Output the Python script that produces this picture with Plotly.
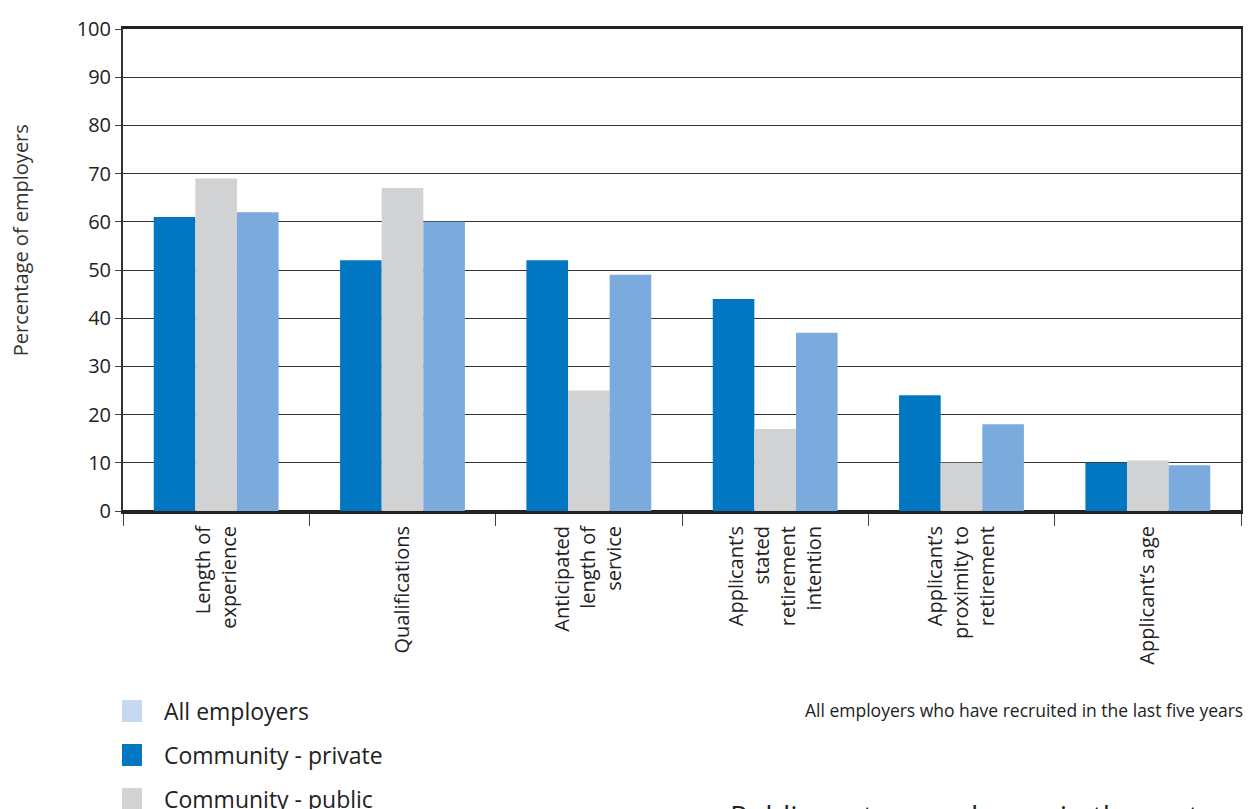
import plotly.graph_objects as go

categories = [
    "Length of<br>experience",
    "Qualifications",
    "Anticipated<br>length of<br>service",
    "Applicant’s<br>stated<br>retirement<br>intention",
    "Applicant’s<br>proximity to<br>retirement",
    "Applicant’s age",
]
community_private = [61, 52, 52, 44, 24, 10]
community_public = [69, 67, 25, 17, 10, 10.5]
all_employers = [62, 60, 49, 37, 18, 9.5]

y_ticks = [0, 10, 20, 30, 40, 50, 60, 70, 80, 90, 100]

legend_names = ["All employers", "Community - private", "Community - public"]
legend_colors = ["#c6d9f1", "#0077c0", "#d1d2d4"]

FONT = "Open Sans"
TXT = "#222222"

fig = go.Figure()
fig.add_trace(go.Bar(x=categories, y=community_private, name="Community - private",
                     marker=dict(color="#0077c0", line=dict(width=0)), showlegend=False))
fig.add_trace(go.Bar(x=categories, y=community_public, name="Community - public",
                     marker=dict(color="#d1d2d4", line=dict(width=0)), showlegend=False))
fig.add_trace(go.Bar(x=categories, y=all_employers, name="All employers",
                     marker=dict(color="#7aabdc", line=dict(width=0)), showlegend=False))

fig.update_layout(
    width=1248, height=809,
    margin=dict(l=123, r=5, t=29, b=298),
    paper_bgcolor="white", plot_bgcolor="white",
    barmode="group", bargap=0.33, bargroupgap=0,
    font=dict(family=FONT, color=TXT),
    showlegend=False,
)
fig.update_xaxes(
    type="category",
    showline=True, linecolor="#222222", linewidth=3, mirror=True,
    ticks="outside", tickson="boundaries", ticklen=12, tickcolor="#444444", tickwidth=1,
    tickangle=-90, tickfont=dict(size=20, color=TXT, family=FONT),
    ticklabelstandoff=4,
    showgrid=False,
)
fig.update_yaxes(
    range=[0, 100], tickvals=y_ticks,
    showline=True, linecolor="#333333", linewidth=2, mirror=True,
    ticks="outside", ticklen=6, tickcolor="#444444",
    showgrid=True, gridcolor="#333333", gridwidth=1,
    zeroline=True, zerolinecolor="#222222", zerolinewidth=3,
    tickfont=dict(size=20, color=TXT, family=FONT),
)

# y-axis title
fig.add_annotation(text="Percentage of employers", xref="paper", yref="paper",
                   x=(20 - 123) / 1120, xanchor="center", y=(511 - 240) / 482, yanchor="middle",
                   textangle=-90, showarrow=False,
                   font=dict(size=20, color="#333333", family=FONT))

# custom legend
leg_y = [711, 755, 799]
for name, col, yy in zip(legend_names, legend_colors, leg_y):
    fig.add_shape(type="rect", xref="paper", yref="paper",
                  x0=(122 - 123) / 1120, x1=(142 - 123) / 1120,
                  y0=(511 - (yy + 11)) / 482, y1=(511 - (yy - 11)) / 482,
                  fillcolor=col, line=dict(width=0), layer="above")
    fig.add_annotation(text=name, xref="paper", yref="paper",
                       x=(162 - 123) / 1120, xanchor="left",
                       y=(511 - yy) / 482, yanchor="middle", showarrow=False,
                       font=dict(size=23, color=TXT, family=FONT))

fig.add_annotation(text="All employers who have recruited in the last five years",
                   xref="paper", yref="paper", x=(1247 - 123) / 1120, xanchor="right",
                   y=(511 - 710) / 482, yanchor="middle", showarrow=False,
                   font=dict(size=17.5, color=TXT, family=FONT))

fig.add_annotation(text="Public sector employers in the sector a",
                   xref="paper", yref="paper", x=(729 - 123) / 1120, xanchor="left",
                   y=(511 - 794) / 482, yanchor="top", showarrow=False,
                   font=dict(size=29, color=TXT, family=FONT))

fig.write_html("out.html", config={"displayModeBar": False},
               post_script="document.body.style.margin='0';document.body.style.overflow='hidden';")
